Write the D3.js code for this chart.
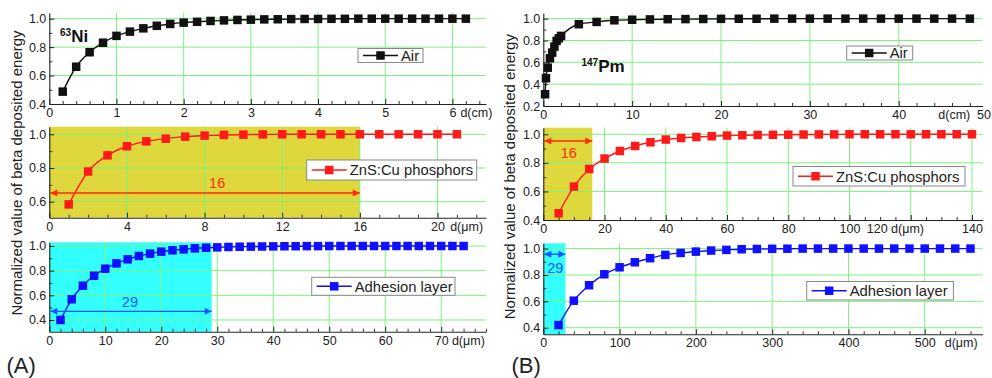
<!DOCTYPE html>
<html><head><meta charset="utf-8">
<script src="https://cdn.jsdelivr.net/npm/d3@7/dist/d3.min.js"></script>
<style>
body{margin:0;background:#fff}
svg{display:block}
text{font-family:"Liberation Sans",Arial,sans-serif}
</style>
</head><body>
<svg id="c" width="992" height="378"></svg>
<script>
// ---------- DATA ----------
// (A) 63Ni
const niAirX = [0.2,0.4,0.6,0.8,1.0,1.2,1.4,1.6,1.8,2.0,2.2,2.4,2.6,2.8,3.0,3.2,3.4,3.6,3.8,4.0,4.2,4.4,4.6,4.8,5.0,5.2,5.4,5.6,5.8,6.0,6.2];
const niAirY = [0.487,0.662,0.764,0.831,0.879,0.909,0.932,0.950,0.963,0.972,0.978,0.984,0.988,0.991,0.993,0.995,0.996,0.997,0.998,0.998,0.999,0.999,1,1,1,1,1,1,1,1,1];
const niZnsX = [1,2,3,4,5,6,7,8,9,10,11,12,13,14,15,16,17,18,19,20,21];
const niZnsY = [0.584,0.779,0.875,0.929,0.958,0.974,0.986,0.992,0.996,0.998,0.999,1,1,1,1,1,1,1,1,1,1];
const niAdhX = [2,4,6,8,10,12,14,16,18,20,22,24,26,28,30,32,34,36,38,40,42,44,46,48,50,52,54,56,58,60,62,64,66,68,70,72,74];
const niAdhY = [0.400,0.568,0.678,0.759,0.816,0.859,0.892,0.919,0.938,0.954,0.965,0.973,0.981,0.986,0.989,0.992,0.994,0.995,0.996,0.997,0.998,0.998,0.999,0.999,1,1,1,1,1,1,1,1,1,1,1,1,1];
// (B) 147Pm
const pmAirX = [0.2,0.3,0.5,0.75,1.0,1.25,1.5,1.75,2.0,4,6,8,10,12,14,16,18,20,22,24,26,28,30,32,34,36,38,40,42,44,46,48];
const pmAirY = [0.308,0.454,0.551,0.637,0.689,0.744,0.796,0.820,0.842,0.949,0.970,0.985,0.990,0.993,0.995,0.996,0.997,0.998,0.999,0.999,1,1,1,1,1,1,1,1,1,1,1,1];
const pmZnsX = [5,10,15,20,25,30,35,40,45,50,55,60,65,70,75,80,85,90,95,100,105,110,115,120,125,130,135,140];
const pmZnsY = [0.447,0.634,0.757,0.830,0.883,0.918,0.944,0.963,0.974,0.981,0.986,0.991,0.993,0.995,0.996,0.997,0.998,0.999,0.999,1,1,1,1,1,1,1,1,1];
const pmAdhX = [20,40,60,80,100,120,140,160,180,200,220,240,260,280,300,320,340,360,380,400,420,440,460,480,500,520,540,560];
const pmAdhY = [0.420,0.605,0.722,0.805,0.858,0.896,0.927,0.952,0.967,0.977,0.985,0.990,0.995,0.997,0.998,0.999,1,1,1,1,1,1,1,1,1,1,1,1];

// tick labels
const niAirXTicks = [0,1,2,3,4,5,6];
const niZnsXTicks = [0,4,8,12,16,20];
const niAdhXTicks = [0,10,20,30,40,50,60,70];
const pmAirXTicks = [0,10,20,30,40];
const pmZnsXTicks = [0,20,40,60,80,100,120,140];
const pmAdhXTicks = [0,100,200,300,400,500];
const yTicks02 = [0.2,0.4,0.6,0.8,1.0];
const yTicks04 = [0.4,0.6,0.8,1.0];
const yTicks06 = [0.6,0.8,1.0];

// shaded thickness annotations
const znsRange = 16;   // µm
const adhRange = 29;   // µm
const seriesNames = ["Air","ZnS:Cu phosphors","Adhesion layer"];

// ---------- STYLE / LAYOUT ----------
const BLACK="#111111", RED="#ff1a1a", BLUE="#1010ff";
const YELLOW="#dfd83c", CYAN="#33ffff", GRID="#7cf27c";
const ARROW_RED="#ff2a10", ARROW_BLUE="#1a55ff";

const panels = [
 {x:niAirX,y:niAirY,color:BLACK,L:49.3,R:486,T:12.7,B:104,xd:[0,6.5],yd:[0.4,1.042],
  xt:niAirXTicks,xm:0.2,yt:yTicks04,
  legend:{label:seriesNames[0],x:358,y:48.5,w:65,h:14},
  unit:{text:"d(cm)",at:6,dx:8}},
 {x:niZnsX,y:niZnsY,color:RED,L:49.3,R:486,T:126.7,B:217.7,xd:[0,22.5],yd:[0.505,1.045],
  xt:niZnsXTicks,xm:1,yt:yTicks06,
  legend:{label:seriesNames[1],x:306.7,y:160,w:170,h:20},
  unit:{text:"d(\u03bcm)",at:20,dx:12.7},
  shade:{to:znsRange,fill:YELLOW,arrowY:0.652,arrowColor:ARROW_RED,label:String(znsRange),lx:8.65,ly:0.683,lcolor:ARROW_RED}},
 {x:niAdhX,y:niAdhY,color:BLUE,L:49.3,R:486,T:242.3,B:331.7,xd:[0,78],yd:[0.305,1.03],
  xt:niAdhXTicks,xm:2,yt:yTicks04,
  legend:{label:seriesNames[2],x:311.7,y:277.3,w:143.3,h:18},
  unit:{text:"d(\u03bcm)",at:70,dx:10.7},
  shade:{to:adhRange,fill:CYAN,arrowY:0.47,arrowColor:ARROW_BLUE,label:String(adhRange),lx:14.4,ly:0.508,lcolor:ARROW_BLUE}},
 {x:pmAirX,y:pmAirY,color:BLACK,L:543.3,R:982.7,T:13.3,B:106,xd:[0,49.45],yd:[0.2,1.049],
  xt:pmAirXTicks,xm:2,yt:yTicks02,
  legend:{label:seriesNames[0],x:846.7,y:46,w:66,h:14},
  unit:{text:"d(cm)",at:40,dx:39.6},
  extra:[{text:"50",at:49.45,dx:-5.7}]},
 {x:pmZnsX,y:pmZnsY,color:RED,L:543.3,R:982.7,T:127.7,B:220,xd:[0,143.5],yd:[0.4,1.046],
  xt:pmZnsXTicks,xm:5,yt:yTicks04,hideLabel:120,
  legend:{label:seriesNames[1],x:793,y:166.5,w:172,h:19.5},
  extra:[{text:"120 d(\u03bcm)",at:120,dx:-44}],
  shade:{to:znsRange,fill:YELLOW,arrowY:0.953,arrowColor:ARROW_RED,label:String(znsRange),lx:8.3,ly:0.836,lcolor:ARROW_RED}},
 {x:pmAdhX,y:pmAdhY,color:BLUE,L:543.3,R:982.7,T:243.3,B:334.3,xd:[0,576],yd:[0.35,1.04],
  xt:pmAdhXTicks,xm:20,yt:yTicks04,
  legend:{label:seriesNames[2],x:806.7,y:281.5,w:146.7,h:18.5},
  unit:{text:"d(\u03bcm)",at:500,dx:20},
  shade:{to:adhRange,fill:CYAN,arrowY:0.957,arrowColor:ARROW_BLUE,label:String(adhRange),lx:15.7,ly:0.817,lcolor:ARROW_BLUE}}
];

const svg = d3.select("#c");
const defs = svg.append("defs");
function marker(id,color){
  [["s",0],["e",1]].forEach(([k,dir])=>{
    defs.append("marker").attr("id",id+k).attr("viewBox","0 0 10 10")
      .attr("refX", dir? 10:0).attr("refY",5).attr("markerWidth",9).attr("markerHeight",7)
      .attr("markerUnits","userSpaceOnUse").attr("orient","auto")
      .append("path").attr("d", dir? "M0,0L10,5L0,10Z":"M10,0L0,5L10,10Z").attr("fill",color);
  });
}
marker("ar",ARROW_RED); marker("ab",ARROW_BLUE);

const fmtY = d3.format(".1f");
const TICKFONT = 12.5;

panels.forEach((p)=>{
  const xs = d3.scaleLinear().domain(p.xd).range([p.L,p.R]);
  const ys = d3.scaleLinear().domain(p.yd).range([p.B,p.T]);
  const g = svg.append("g");

  if(p.shade){
    g.append("rect").attr("x",xs(0)).attr("y",p.T).attr("width",xs(p.shade.to)-xs(0)).attr("height",p.B-p.T).attr("fill",p.shade.fill);
  }
  g.append("g").selectAll("line").data(p.xt.filter(v=>v>0 && v<=p.xd[1])).join("line")
    .attr("x1",d=>xs(d)).attr("x2",d=>xs(d)).attr("y1",p.T).attr("y2",p.B)
    .attr("stroke",GRID).attr("stroke-width",1);
  g.append("g").selectAll("line").data(p.yt.filter(v=>v>p.yd[0]+1e-9)).join("line")
    .attr("x1",p.L).attr("x2",p.R).attr("y1",d=>ys(d)).attr("y2",d=>ys(d))
    .attr("stroke",GRID).attr("stroke-width",1);

  const xMinor = d3.range(0, p.xd[1]+1e-9, p.xm).filter(v=>!p.xt.some(t=>Math.abs(t-v)<1e-9));
  const yMinor = d3.range(Math.ceil(p.yd[0]*10-1e-9)/10, p.yd[1]+1e-9, 0.1).filter(v=>!p.yt.some(t=>Math.abs(t-v)<1e-9));
  g.append("g").attr("transform",`translate(0,${p.B})`)
    .call(d3.axisBottom(xs).tickValues(xMinor).tickSizeInner(-3).tickSizeOuter(0).tickFormat(""))
    .call(a=>a.select(".domain").remove()).selectAll("line").attr("stroke","#333");
  g.append("g").attr("transform",`translate(${p.L},0)`)
    .call(d3.axisLeft(ys).tickValues(yMinor).tickSizeInner(-3).tickSizeOuter(0).tickFormat(""))
    .call(a=>a.select(".domain").remove()).selectAll("line").attr("stroke","#333");

  const xa = g.append("g").attr("transform",`translate(0,${p.B})`)
    .call(d3.axisBottom(xs).tickValues(p.xt).tickSizeInner(-5).tickSizeOuter(0).tickPadding(4)
      .tickFormat(d=> d===p.hideLabel ? "" : d3.format("")(d)));
  const ya = g.append("g").attr("transform",`translate(${p.L},0)`)
    .call(d3.axisLeft(ys).tickValues(p.yt).tickSizeInner(-5).tickSizeOuter(0).tickPadding(3).tickFormat(fmtY));
  [xa,ya].forEach(a=>{
    a.select(".domain").attr("stroke","#222").attr("stroke-width",1.1);
    a.selectAll(".tick line").attr("stroke","#222");
    a.selectAll("text").attr("font-size",TICKFONT).attr("fill","#222").style("font-family",'"Liberation Sans",Arial,sans-serif');
  });
  const addX = (t)=> g.append("text").attr("x",xs(t.at)+t.dx).attr("y",p.B+4).attr("dy","0.71em")
      .attr("font-size",TICKFONT).attr("fill","#222").text(t.text);
  if(p.unit) addX(p.unit);
  (p.extra||[]).forEach(addX);

  const pts = p.x.map((v,i)=>[v,p.y[i]]);
  g.append("path").datum(pts)
    .attr("d",d3.line().x(d=>xs(d[0])).y(d=>ys(d[1])).curve(d3.curveMonotoneX))
    .attr("fill","none").attr("stroke",p.color).attr("stroke-width",1.4);
  const ms = 8.5;
  g.append("g").selectAll("rect").data(pts).join("rect")
    .attr("x",d=>xs(d[0])-ms/2).attr("y",d=>ys(d[1])-ms/2).attr("width",ms).attr("height",ms)
    .attr("fill",p.color);

  if(p.shade){
    const s=p.shade, id = s.fill===YELLOW?"ar":"ab";
    g.append("line").attr("x1",xs(0)+1).attr("x2",xs(s.to)).attr("y1",ys(s.arrowY)).attr("y2",ys(s.arrowY))
      .attr("stroke",s.arrowColor).attr("stroke-width",1.4)
      .attr("marker-start",`url(#${id}s)`).attr("marker-end",`url(#${id}e)`);
    g.append("text").attr("x",xs(s.lx)).attr("y",ys(s.ly)).attr("text-anchor","middle")
      .attr("font-size",14.5).attr("fill",s.lcolor).text(s.label);
  }

  const L = p.legend;
  const lg = g.append("g");
  lg.append("rect").attr("x",L.x).attr("y",L.y).attr("width",L.w).attr("height",L.h)
    .attr("fill","#fff").attr("stroke","#888").attr("stroke-width",1);
  const cy = L.y+L.h/2;
  lg.append("line").attr("x1",L.x+5).attr("x2",L.x+40).attr("y1",cy).attr("y2",cy).attr("stroke",p.color).attr("stroke-width",1.4);
  lg.append("rect").attr("x",L.x+22.5-ms/2).attr("y",cy-ms/2).attr("width",ms).attr("height",ms).attr("fill",p.color);
  lg.append("text").attr("x",L.x+43).attr("y",cy).attr("dy","0.36em").attr("font-size",14.8).attr("fill","#222").text(L.label);
});

function iso(x,y,sup,main){
  const t = svg.append("text").attr("x",x).attr("y",y).attr("font-weight","bold").attr("fill","#111");
  t.append("tspan").attr("font-size",10).attr("dy",-6).text(sup);
  t.append("tspan").attr("font-size",17).attr("dy",6).text(main);
}
iso(60,41.7,"63","Ni");
iso(581.5,72,"147","Pm");

const ytitle = "Normalized value of beta deposited energy";
[[22,173],[514.5,176.7]].forEach(([x,y])=>{
  svg.append("text").attr("transform",`translate(${x},${y}) rotate(-90)`).attr("text-anchor","middle")
    .attr("font-size",15).attr("fill","#222").text(ytitle);
});
svg.append("text").attr("x",6.5).attr("y",373.3).attr("font-size",22).attr("fill","#222").text("(A)");
svg.append("text").attr("x",511.5).attr("y",373.3).attr("font-size",22).attr("fill","#222").text("(B)");
</script>
</body></html>
